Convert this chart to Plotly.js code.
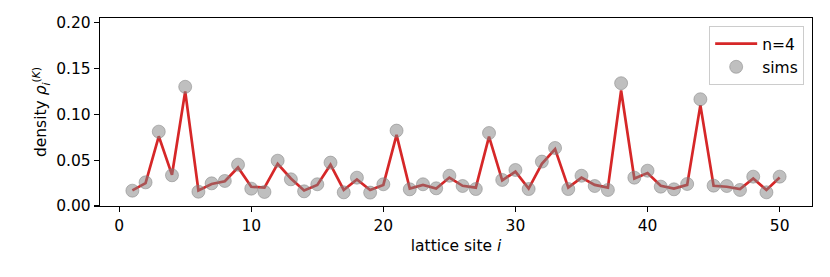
<!DOCTYPE html>
<html>
<head>
<meta charset="utf-8">
<script src="https://cdn.plot.ly/plotly-3.0.1.min.js"></script>
<style>html,body{margin:0;padding:0;background:#fff;}#chart{width:830px;height:277px;}</style>
</head>
<body>
<div id="chart"></div>
<script>
const sites = Array.from({length: 50}, (_, k) => k + 1);
const theoryN4 = [0.017, 0.025, 0.076, 0.034, 0.125, 0.017, 0.024, 0.027, 0.042, 0.021,
  0.020, 0.046, 0.030, 0.017, 0.023, 0.045, 0.0175, 0.029, 0.0175, 0.023,
  0.0775, 0.019, 0.023, 0.019, 0.031, 0.022, 0.020, 0.0756, 0.028, 0.0375,
  0.019, 0.046, 0.062, 0.020, 0.031, 0.023, 0.020, 0.126, 0.030, 0.036,
  0.022, 0.019, 0.023, 0.110, 0.022, 0.021, 0.0185, 0.030, 0.0175, 0.031];
const sims = [0.0167, 0.0258, 0.0811, 0.0335, 0.1300, 0.0156, 0.0247, 0.0273, 0.0451, 0.0189,
  0.0153, 0.0494, 0.0291, 0.0160, 0.0237, 0.0473, 0.0149, 0.0309, 0.0146, 0.0237,
  0.0822, 0.0182, 0.0237, 0.0193, 0.0330, 0.0218, 0.0185, 0.0796, 0.0284, 0.0393,
  0.0185, 0.0484, 0.0633, 0.0185, 0.0330, 0.0218, 0.0175, 0.1339, 0.0309, 0.0385,
  0.0211, 0.0182, 0.0240, 0.1164, 0.0222, 0.0218, 0.0175, 0.0320, 0.0149, 0.0320];
const xTicks = [0, 10, 20, 30, 40, 50];
const yTicks = [0, 0.05, 0.10, 0.15, 0.20];

const font = {family: 'DejaVu Sans, sans-serif', size: 15.5, color: '#000'};
const traces = [
  {x: sites, y: theoryN4, type: 'scatter', mode: 'lines', name: 'n=4',
   line: {color: '#d62728', width: 2.7}},
  {x: sites, y: sims, type: 'scatter', mode: 'markers', name: 'sims',
   marker: {size: 13, color: 'rgba(128,128,128,0.5)', line: {color: 'rgba(128,128,128,0.5)', width: 1}}}
];
const axisCommon = {showline: true, mirror: true, linecolor: '#000', linewidth: 1.2,
  ticks: 'outside', ticklen: 5, tickwidth: 1.2, tickcolor: '#000', showgrid: false, zeroline: false,
  tickfont: font};
const layout = {
  width: 830, height: 277,
  margin: {l: 100, r: 18, t: 18, b: 71},
  paper_bgcolor: '#fff', plot_bgcolor: '#fff',
  font: font,
  xaxis: Object.assign({}, axisCommon, {range: [-1.45, 52.45], tickvals: xTicks,
    title: {text: 'lattice site <i>i</i>', font: font, standoff: 6}}),
  yaxis: Object.assign({}, axisCommon, {range: [0, 0.205], tickvals: yTicks, tickformat: '.2f',
    title: {text: 'density <i>ρ</i><sub><i>i</i></sub><sup>(<i>K</i>)</sup>', font: font, standoff: 5}}),
  showlegend: true,
  legend: {x: 0.989, y: 0.957, xanchor: 'right', yanchor: 'top', bgcolor: 'rgba(255,255,255,0.8)',
    bordercolor: '#ccc', borderwidth: 1, font: font, itemwidth: 42}
};
Plotly.newPlot('chart', traces, layout, {displayModeBar: false, staticPlot: true});
</script>
</body>
</html>
